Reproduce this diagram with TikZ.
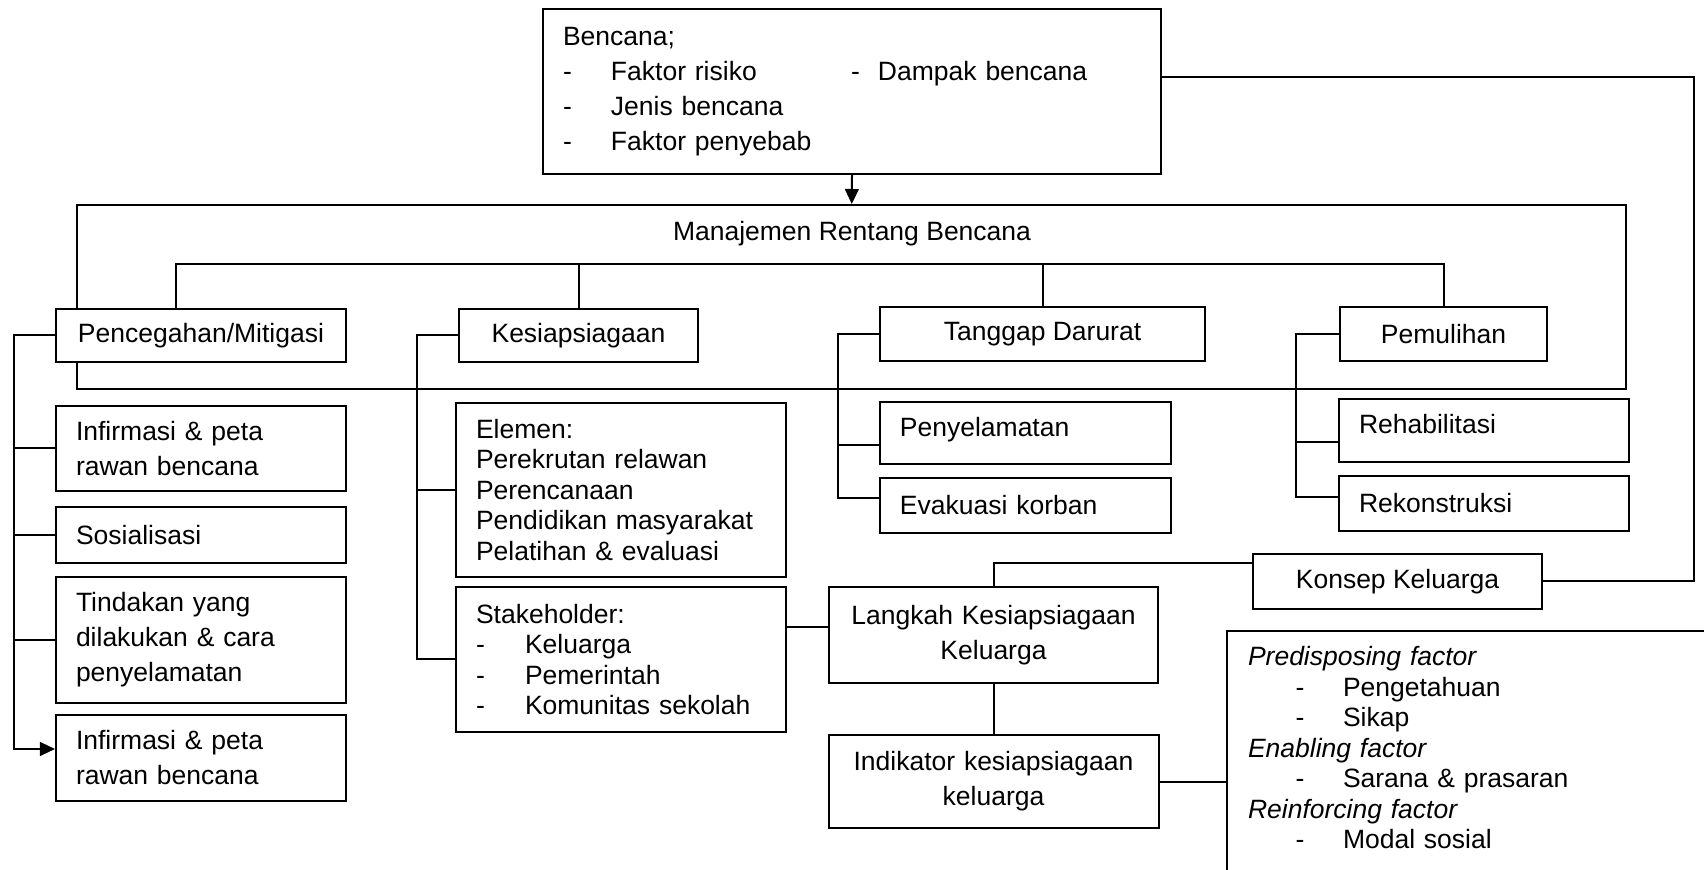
\documentclass[tikz,border=0pt]{standalone}
\usepackage{fontspec}
\setmainfont{Liberation Sans}
\usetikzlibrary{arrows.meta}
\begin{document}
\begin{tikzpicture}[>={Triangle[length=6pt,width=5.5pt]},x=.4pt,y=-.4pt,line width=.8pt,
    font=\fontsize{10.6}{14}\selectfont,
    kotak/.style={draw,fill=white,inner xsep=8pt,inner ysep=2pt},
    kiri/.style={kotak,align=left},
    tengah/.style={kotak,align=center,inner xsep=4pt},
    rapat/.style={font=\fontsize{10.6}{12.2}\selectfont}]
\useasboundingbox (0,0) rectangle (1704,870);
\clip (0,0) rectangle (1704,870);
\node[kiri,text width=231.2pt,minimum height=66pt] (bencana) at (852,91.5) {Bencana;\\
    \makebox[19.2pt][l]{-}\makebox[96pt][l]{Faktor risiko}\makebox[10.8pt][l]{-}Dampak bencana\\
    \makebox[19.2pt][l]{-}Jenis bencana\\
    \makebox[19.2pt][l]{-}Faktor penyebab};
\node[draw,minimum width=619.4pt,minimum height=73.6pt] (mrb) at (851.75,297) {};
\node (judul) at (852,234) {Manajemen Rentang Bencana};
\coordinate (bar) at (176,264);
\coordinate (kanan) at (1694,76.7);
\coordinate (spine1) at (14,0);
\coordinate (spine2) at (417,0);
\coordinate (spine3) at (838,0);
\coordinate (spine4) at (1296,0);

\node[kotak,minimum width=116pt,minimum height=21pt] (pencegahan) at (201,335.5) {Pencegahan/Mitigasi};
\node[kotak,minimum width=95.6pt,minimum height=21pt] (kesiap) at (578.5,335.5) {Kesiapsiagaan};
\node[kotak,minimum width=130pt,minimum height=21.5pt] (tanggap) at (1042.5,334) {Tanggap Darurat};
\node[kotak,minimum width=82.8pt,minimum height=21.5pt] (pemulihan) at (1443.5,334) {Pemulihan};

\node[kiri,text width=100pt,minimum height=34pt] (info1) at (201,448.5) {Infirmasi \& peta\\rawan bencana};
\node[kiri,text width=100pt,minimum height=22.4pt] (sosial) at (201,535) {Sosialisasi};
\node[kiri,text width=100pt,minimum height=50.4pt] (tindakan) at (201,640) {Tindakan yang\\dilakukan \& cara\\penyelamatan};
\node[kiri,text width=100pt,minimum height=34.4pt] (info2) at (201,758) {Infirmasi \& peta\\rawan bencana};

\node[kiri,rapat,text width=116pt,minimum height=69.6pt] (elemen) at (621,490) {Elemen:\\Perekrutan relawan\\Perencanaan\\Pendidikan masyarakat\\Pelatihan \& evaluasi};
\node[kiri,rapat,text width=116pt,minimum height=58pt] (stake) at (621,659.5) {Stakeholder:\\
    \makebox[19.6pt][l]{-}Keluarga\\
    \makebox[19.6pt][l]{-}Pemerintah\\
    \makebox[19.6pt][l]{-}Komunitas sekolah};

\node[kiri,text width=100.3pt,minimum height=24.8pt,text depth=5pt] (penyel) at (1025.3,433) {Penyelamatan};
\node[kiri,text width=100.3pt,minimum height=22pt] (evakuasi) at (1025.3,505.5) {Evakuasi korban};
\node[kiri,text width=100pt,minimum height=25.2pt,text depth=5pt] (rehab) at (1484,430.5) {Rehabilitasi};
\node[kiri,text width=100pt,minimum height=22pt] (rekon) at (1484,503.5) {Rekonstruksi};

\node[kotak,minimum width=115.6pt,minimum height=22pt] (konsep) at (1397.5,581.5) {Konsep Keluarga};
\node[tengah,text width=123.6pt,minimum height=38.4pt] (langkah) at (993.5,635) {Langkah Kesiapsiagaan\\Keluarga};
\node[tengah,text width=124pt,minimum height=37.2pt] (indikator) at (993.5,781.5) {Indikator kesiapsiagaan\\keluarga};
\node[draw,anchor=north west,minimum width=250pt,minimum height=120pt] (faktorbox) at (1226,630) {};
\node[anchor=north west,inner sep=0pt,text width=180pt,align=left,rapat] (faktor) at (1247,645.5) {\textit{Predisposing factor}\\
    \hspace*{19pt}\makebox[19pt][l]{-}Pengetahuan\\
    \hspace*{19pt}\makebox[19pt][l]{-}Sikap\\
    \textit{Enabling factor}\\
    \hspace*{19pt}\makebox[19pt][l]{-}Sarana \& prasaran\\
    \textit{Reinforcing factor}\\
    \hspace*{19pt}\makebox[19pt][l]{-}Modal sosial};

\draw[->] (bencana.south) -- (mrb.north);
\draw (kanan -| bencana.east) -- (kanan) |- (konsep.east);
\draw (bar |- pencegahan.north) -- (bar) -| (pemulihan.north);
\draw (kesiap.north) -- (kesiap.north |- bar) (tanggap.north) -- (tanggap.north |- bar);
\draw[->] (pencegahan.west) -| ([yshift=3.6pt]info2.west -| spine1) -- ([yshift=3.6pt]info2.west);
\draw (info1.west) -- (info1.west -| spine1) (sosial.west) -- (sosial.west -| spine1) (tindakan.west) -- (tindakan.west -| spine1);
\draw (kesiap.west) -| (stake.west -| spine2) -- (stake.west) (elemen.west) -- (elemen.west -| spine2);
\draw (tanggap.west) -| ([yshift=3pt]evakuasi.west -| spine3) -- ([yshift=3pt]evakuasi.west)
    ([yshift=-4.8pt]penyel.west) -- ([yshift=-4.8pt]penyel.west -| spine3);
\draw (pemulihan.west) -| ([yshift=2.6pt]rekon.west -| spine4) -- ([yshift=2.6pt]rekon.west)
    ([yshift=-4.6pt]rehab.west) -- ([yshift=-4.6pt]rehab.west -| spine4);
\draw ([yshift=3.2pt]langkah.west) -- ([yshift=3.2pt]langkah.west -| stake.east);
\draw ([yshift=7.4pt]konsep.west) -| (langkah.north);
\draw (langkah.south) -- (indikator.north);
\draw (indikator.east) -- (indikator.east -| faktorbox.west);
\end{tikzpicture}
\end{document}
